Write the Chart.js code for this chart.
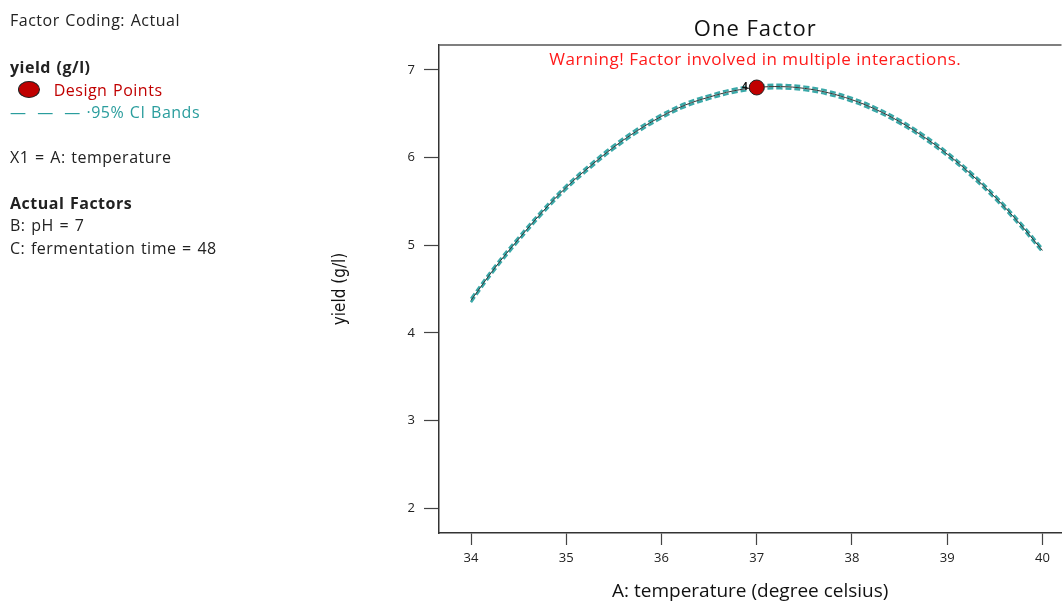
<!DOCTYPE html>
<html>
<head>
<meta charset="utf-8">
<script src="https://cdn.jsdelivr.net/npm/chart.js@4.4.1/dist/chart.umd.min.js"></script>
<style>
  html, body { margin: 0; padding: 0; background: #fff; overflow: hidden; }
  #wrap { position: relative; width: 1062px; height: 603px; overflow: hidden; }
  #chart { position: absolute; left: 0; top: 0; }
  .side { position: absolute; left: 10px; font-family: "Open Sans", "Noto Sans", sans-serif; font-size: 16px; letter-spacing: 0.5px; word-spacing: 1px; color: #222; white-space: nowrap; }
  .b { font-weight: bold; }
</style>
</head>
<body>
<div id="wrap">
  <canvas id="chart" width="1070" height="603"></canvas>
  <div class="side" style="top:9px">Factor Coding: Actual</div>
  <div class="side b" style="top:56px">yield (g/l)</div>
  <div class="side" style="top:79px; left:18px">
    <span style="display:inline-block;width:20px;height:15px;border-radius:50%;background:#c00000;border:1px solid #222;vertical-align:-2px"></span>
    <span style="color:#c00000;margin-left:8px">Design Points</span>
  </div>
  <div class="side" style="top:101px; color:#2a9d9d"><span style="word-spacing:6px">&#8212; &#8212; &#8212;</span> &#183;95% CI Bands</div>
  <div class="side" style="top:146px">X1 = A: temperature</div>
  <div class="side b" style="top:192px">Actual Factors</div>
  <div class="side" style="top:214px">B: pH = 7</div>
  <div class="side" style="top:237px">C: fermentation time = 48</div>
</div>
<script>
// valeurs
const temperature = [34, 34.25, 34.5, 34.75, 35, 35.25, 35.5, 35.75, 36, 36.25, 36.5, 36.75,
  37, 37.25, 37.5, 37.75, 38, 38.25, 38.5, 38.75, 39, 39.25, 39.5, 39.75, 40];
const yieldFit = [4.37, 4.74, 5.07, 5.38, 5.66, 5.90, 6.12, 6.31, 6.47, 6.60, 6.69, 6.76,
  6.80, 6.81, 6.79, 6.74, 6.66, 6.55, 6.41, 6.24, 6.04, 5.81, 5.55, 5.26, 4.94];
const ciUpper = [4.39, 4.76, 5.09, 5.40, 5.68, 5.92, 6.14, 6.33, 6.49, 6.62, 6.71, 6.78,
  6.82, 6.83, 6.81, 6.76, 6.68, 6.57, 6.43, 6.26, 6.06, 5.83, 5.57, 5.28, 4.96];
const ciLower = [4.35, 4.72, 5.05, 5.36, 5.64, 5.88, 6.10, 6.29, 6.45, 6.58, 6.67, 6.74,
  6.78, 6.79, 6.77, 6.72, 6.64, 6.53, 6.39, 6.22, 6.02, 5.79, 5.53, 5.24, 4.92];
const designX = [37];
const designY = [6.80];
const designCount = ["4"];
const xTicks = [34, 35, 36, 37, 38, 39, 40];
const yTicks = [2, 3, 4, 5, 6, 7];

const pts = (xs, ys) => xs.map((x, i) => ({ x: x, y: ys[i] }));

// titre, avertissement, bord haut et étiquette du point
const decor = {
  id: "decor",
  afterDraw(chart) {
    const c = chart.ctx;
    const a = chart.chartArea;
    const cx = (a.left + a.right) / 2 + 5;
    c.save();
    c.strokeStyle = "#555";
    c.lineWidth = 1.5;
    c.beginPath();
    c.moveTo(a.left, a.top);
    c.lineTo(a.right, a.top);
    c.stroke();
    c.textAlign = "center";
    c.textBaseline = "middle";
    c.fillStyle = "#111";
    c.letterSpacing = "1px";
    c.font = "22px 'Open Sans', sans-serif";
    c.fillText("One Factor", cx, 30);
    c.fillStyle = "#ff1a1a";
    c.letterSpacing = "0.5px";
    c.font = "17px 'Open Sans', sans-serif";
    c.fillText("Warning! Factor involved in multiple interactions.", cx, 60);
    const xs = chart.scales.x, ys = chart.scales.y;
    c.letterSpacing = "0px";
    c.fillStyle = "#111";
    c.font = "bold 10px 'Open Sans', sans-serif";
    c.textAlign = "right";
    designX.forEach((v, i) => {
      c.fillText(designCount[i], xs.getPixelForValue(v) - 9, ys.getPixelForValue(designY[i]));
    });
    c.restore();
  }
};

const ctx = document.getElementById("chart").getContext("2d");
const chart = new Chart(ctx, {
  type: "scatter",
  data: {
    datasets: [
      {
        label: "Design Points",
        data: pts(designX, designY),
        backgroundColor: "#c00000",
        borderColor: "#222",
        borderWidth: 1,
        pointRadius: 7.5,
      },
      {
        label: "fit",
        data: pts(temperature, yieldFit),
        showLine: true,
        borderColor: "#333",
        borderWidth: 1,
        pointRadius: 0,
        tension: 0.4,
      },
      {
        label: "95% CI upper",
        data: pts(temperature, ciUpper),
        showLine: true,
        borderColor: "#3aa8a8",
        borderWidth: 2.5,
        borderDash: [6, 3],
        pointRadius: 0,
        tension: 0.4,
      },
      {
        label: "95% CI lower",
        data: pts(temperature, ciLower),
        showLine: true,
        borderColor: "#3aa8a8",
        borderWidth: 2.5,
        borderDash: [6, 3],
        pointRadius: 0,
        tension: 0.4,
      },
    ],
  },
  options: {
    responsive: false,
    animation: false,
    layout: { padding: { top: 45, right: 0, bottom: 0, left: 0 } },
    plugins: {
      legend: { display: false },
      tooltip: { enabled: false },
    },
    scales: {
      x: {
        type: "linear",
        min: 33.664,
        max: 40.2,
        afterFit: (s) => { s.height = 70; },
        afterBuildTicks: (s) => { s.ticks = xTicks.map((v) => ({ value: v })); },
        border: { display: true, color: "#333", width: 1.5 },
        grid: { drawOnChartArea: false, drawTicks: true, tickLength: 12, color: "#444", tickWidth: 1.2 },
        ticks: { includeBounds: false, padding: 5, color: "#222", font: { family: "Open Sans", size: 13 } },
        title: {
          display: true,
          text: "A: temperature (degree celsius)",
          color: "#111",
          font: { family: "Open Sans", size: 19 },
          padding: { top: 10, bottom: 0 },
        },
      },
      y: {
        type: "linear",
        min: 1.715,
        max: 7.285,
        afterFit: (s) => { s.width = 439; },
        afterBuildTicks: (s) => { s.ticks = yTicks.map((v) => ({ value: v })); },
        border: { display: true, color: "#333", width: 1.5 },
        grid: { drawOnChartArea: false, drawTicks: true, tickLength: 15, color: "#444", tickWidth: 1.2 },
        ticks: { includeBounds: false, padding: 9, color: "#222", font: { family: "Open Sans", size: 13 } },
        title: {
          display: true,
          text: "yield (g/l)",
          color: "#111",
          font: { family: "'Liberation Sans Narrow', 'DejaVu Sans Condensed', sans-serif", size: 17 },
          padding: { top: 330, bottom: 0 },
        },
      },
    },
  },
  plugins: [decor],
});
</script>
</body>
</html>
